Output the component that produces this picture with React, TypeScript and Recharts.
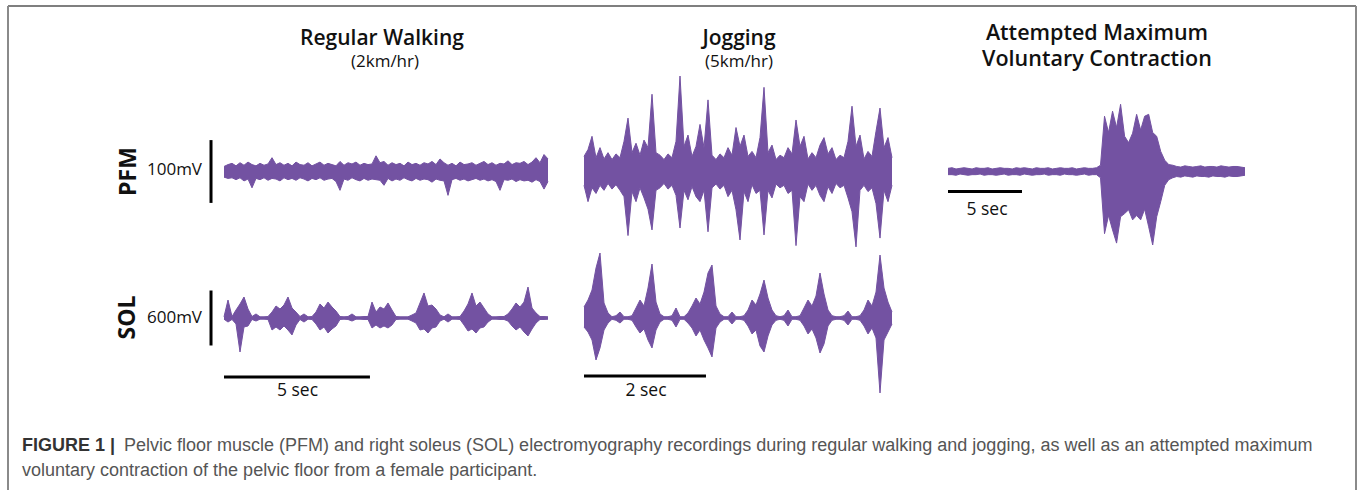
import React from 'react';
import { AreaChart, Area, XAxis, YAxis, ReferenceLine } from 'recharts';

const PURPLE = '#7352A2';

// ---------- data (mV), equally spaced samples over each recording ----------
// Regular walking, pelvic floor muscle (11.1 s)
const WALK_PFM_HI = [8,11,13,9,14,10,15,11,9,13, 10,12,22,11,14,10,13,9,15,11, 10,14,9,12,15,10,13,11,9,16, 10,14,12,15,10,13,11,12,25,14, 16,10,14,11,13,9,15,11,13,10, 14,12,16,11,20,14,10,13,9,15, 11,12,14,10,13,16,11,14,10,13, 12,17,11,14,13,16,11,15,22,14, 27,20];
const WALK_PFM_LO = [-9,-11,-10,-13,-10,-15,-12,-26,-11,-13, -10,-14,-11,-12,-15,-10,-13,-11,-14,-10, -12,-15,-11,-13,-10,-14,-12,-11,-16,-30, -12,-14,-10,-13,-15,-11,-14,-12,-13,-14, -22,-11,-15,-12,-14,-10,-13,-15,-11,-14, -12,-13,-17,-12,-14,-15,-38,-13,-11,-14, -12,-15,-13,-11,-14,-12,-15,-13,-16,-30, -13,-14,-12,-16,-13,-15,-14,-17,-13,-16, -28,-16];
// Regular walking, soleus
const WALK_SOL_HI = [13,196,16,87,153,229,98,16,44,13, 13,16,65,131,98,142,229,109,65,16, 44,13,16,65,153,109,174,120,76,16, 13,16,44,13,13,16,16,174,65,120, 98,164,87,16,13,13,13,33,55,164, 273,131,142,98,33,13,44,13,13,16, 76,153,273,131,174,109,44,13,13,16, 16,44,98,164,120,174,338,109,55,16, 16,13];
const WALK_SOL_LO = [-13,-44,-16,-65,-371,-98,-87,-16,-33,-13, -13,-16,-131,-98,-131,-87,-131,-185,-76,-16, -44,-13,-16,-65,-131,-98,-164,-120,-87,-16, -13,-16,-33,-13,-13,-16,-16,-109,-76,-109, -87,-109,-76,-16,-13,-13,-13,-33,-55,-131, -120,-164,-109,-98,-33,-13,-44,-13,-13,-16, -76,-142,-120,-164,-109,-98,-44,-13,-13,-16, -16,-33,-87,-131,-98,-153,-196,-120,-55,-16, -16,-13];
// Jogging, pelvic floor muscle (5.05 s)
const JOG_PFM_HI = [24,35,56,22,38,20,30,19,28,22, 48,85,30,45,26,50,38,123,30,26, 19,28,22,48,152,40,58,24,40,75, 38,114,26,19,28,22,38,26,70,40, 58,24,32,22,54,134,30,42,19,26, 22,38,28,82,40,56,20,30,22,42, 54,28,38,19,26,22,48,104,40,58, 20,32,24,64,101,38,54,22];
const JOG_PFM_LO = [-22,-48,-26,-35,-22,-30,-19,-28,-21,-30, -40,-102,-32,-48,-26,-42,-60,-93,-30,-26, -19,-28,-22,-38,-90,-30,-45,-24,-40,-48, -30,-96,-26,-20,-28,-22,-40,-30,-61,-109, -32,-48,-21,-35,-30,-101,-30,-42,-20,-26, -22,-35,-30,-118,-40,-48,-20,-30,-22,-38, -48,-24,-35,-19,-26,-22,-42,-64,-120,-30, -22,-32,-26,-51,-106,-30,-48,-22];
// Jogging, soleus
const JOG_SOL_HI = [120,196,305,545,709,164,55,14,25,65, 14,14,25,109,196,131,327,589,174,44, 14,14,25,109,14,14,55,131,218,153, 283,491,578,131,44,14,14,65,14,14, 25,87,196,142,262,414,218,87,25,14, 25,87,14,14,25,109,196,131,240,491, 262,87,25,14,14,25,76,14,14,25, 87,196,131,283,687,327,174,65];
const JOG_SOL_LO = [-98,-153,-240,-458,-327,-131,-55,-14,-25,-55, -14,-14,-25,-98,-164,-120,-240,-327,-131,-44, -14,-14,-25,-98,-14,-14,-55,-109,-196,-131, -240,-327,-425,-109,-44,-14,-14,-65,-14,-14, -25,-87,-174,-131,-305,-371,-196,-76,-25,-14, -25,-87,-14,-14,-25,-87,-174,-120,-218,-382, -283,-87,-25,-14,-14,-25,-76,-14,-14,-25, -87,-174,-109,-218,-818,-240,-153,-65];
// Attempted maximum voluntary contraction, pelvic floor muscle (20 s)
const MVC_PFM_HI = [5,6,4,5,6,5,4,6,5,5, 6,4,5,6,5,5,4,6,5,6, 5,4,6,5,5,6,4,5,6,5, 5,6,4,5,6,5,5,6, 10,88,62,96,70,107,56,46,61,91,66,88,91,62,56,32,18,11,10, 8,7,9,8,7,8,9,7,8,8,7,9,8,7,8,8,7,6];
const MVC_PFM_LO = [-5,-5,-6,-4,-5,-6,-5,-5,-4,-6, -5,-5,-6,-5,-4,-6,-5,-5,-6,-4, -5,-6,-5,-5,-4,-6,-5,-5,-6,-4, -5,-5,-6,-5,-4,-6,-5,-5, -10,-99,-70,-93,-114,-72,-67,-61,-77,-70,-77,-60,-88,-117,-72,-48,-22,-13,-10, -8,-9,-7,-8,-9,-7,-8,-8,-9,-7,-8,-8,-9,-7,-8,-8,-7,-6];

const WALK_DURATION = 11.1;
const JOG_DURATION = 5.05;
const MVC_DURATION = 20.07;
const PFM_MAX = 160;
const SOL_MAX = 873;

const build = (hi: number[], lo: number[], duration: number) => {
  const dt = duration / (hi.length - 1);
  return hi.map((h, i) => ({ t: i * dt, v: [lo[i], h] }));
};

type TraceProps = {
  hi: number[]; lo: number[]; duration: number; yMax: number;
  left: number; top: number; width: number; height: number;
  refs?: React.ReactNode[];
};

function Trace({ hi, lo, duration, yMax, left, top, width, height, refs }: TraceProps) {
  const data = build(hi, lo, duration);
  return (
    <div style={{ position: 'absolute', left, top }}>
      <AreaChart width={width} height={height} data={data} margin={{ top: 0, right: 0, bottom: 0, left: 0 }}>
        <XAxis type="number" dataKey="t" domain={[0, duration]} hide />
        <YAxis type="number" domain={[-yMax, yMax]} hide />
        <Area type="linear" dataKey="v" stroke={PURPLE} strokeWidth={1} fill={PURPLE} fillOpacity={1}
          isAnimationActive={false} dot={false} activeDot={false} />
        {refs}
      </AreaChart>
    </div>
  );
}

const bar = (key: string, x1: number, y1: number, x2: number, y2: number) => (
  <ReferenceLine key={key} segment={[{ x: x1, y: y1 }, { x: x2, y: y2 }]} stroke="#000" strokeWidth={3} ifOverflow="visible" />
);

const TITLE_FONT = '"Open Sans", sans-serif';
const CAP_FONT = '"Liberation Sans", Arial, sans-serif';

export default function App() {
  return (
    <div style={{ position: 'absolute', left: 0, top: 0, width: 1362, height: 490, background: '#fff', overflow: 'hidden' }}>
      <style>{'.recharts-surface{overflow:visible}'}</style>
      <svg width={1362} height={490} style={{ position: 'absolute', left: 0, top: 0 }}>
        <line x1={8} y1={6} x2={1356} y2={6} stroke="#555" strokeWidth={1.5} />
        <line x1={8} y1={6} x2={8} y2={490} stroke="#8a8a8a" strokeWidth={2} />
        <line x1={1356} y1={6} x2={1356} y2={490} stroke="#8a8a8a" strokeWidth={2} />

        <g fontFamily={TITLE_FONT} fill="#111" textAnchor="middle">
          <text x={382} y={45} fontSize={21} fontWeight={600}>Regular Walking</text>
          <text x={385} y={67} fontSize={17}>(2km/hr)</text>
          <text x={739} y={45} fontSize={21} fontWeight={600}>Jogging</text>
          <text x={739} y={67} fontSize={17}>(5km/hr)</text>
          <text x={1097} y={39.5} fontSize={21.5} fontWeight={600}>Attempted Maximum</text>
          <text x={1097} y={66} fontSize={21.5} fontWeight={600}>Voluntary Contraction</text>
          <text x={0} y={0} fontSize={23} fontWeight={700} dominantBaseline="central" transform="translate(127,171.5) rotate(-90)">PFM</text>
          <text x={0} y={0} fontSize={23} fontWeight={700} dominantBaseline="central" transform="translate(126,317.5) rotate(-90)">SOL</text>
          <text x={174.5} y={175} fontSize={17}>100mV</text>
          <text x={174.5} y={323} fontSize={17}>600mV</text>
          <text x={297.5} y={396} fontSize={17.5}>5 sec</text>
          <text x={646} y={395.5} fontSize={17.5}>2 sec</text>
          <text x={987} y={214.5} fontSize={17.5}>5 sec</text>
        </g>

        <g fontFamily={CAP_FONT} fontSize={18}>
          <text x={22} y={451} fill="#333" fontWeight={700}>FIGURE 1 |</text>
          <text x={124} y={451} fill="#555">Pelvic floor muscle (PFM) and right soleus (SOL) electromyography recordings during regular walking and jogging, as well as an attempted maximum</text>
          <text x={22} y={476} fill="#555">voluntary contraction of the pelvic floor from a female participant.</text>
        </g>
      </svg>

      <Trace hi={WALK_PFM_HI} lo={WALK_PFM_LO} duration={WALK_DURATION} yMax={PFM_MAX}
        left={224} top={71} width={324} height={201}
        refs={[bar('pfmScale', -0.445, -50, -0.445, 50)]} />
      <Trace hi={WALK_SOL_HI} lo={WALK_SOL_LO} duration={WALK_DURATION} yMax={SOL_MAX}
        left={224} top={238} width={324} height={160}
        refs={[bar('solScale', -0.445, -300, -0.445, 300), bar('walkTime', 0, -644, 5, -644)]} />
      <Trace hi={JOG_PFM_HI} lo={JOG_PFM_LO} duration={JOG_DURATION} yMax={PFM_MAX}
        left={584} top={71} width={308} height={201} />
      <Trace hi={JOG_SOL_HI} lo={JOG_SOL_LO} duration={JOG_DURATION} yMax={SOL_MAX}
        left={584} top={238} width={308} height={160}
        refs={[bar('jogTime', 0, -633, 2, -633)]} />
      <Trace hi={MVC_PFM_HI} lo={MVC_PFM_LO} duration={MVC_DURATION} yMax={PFM_MAX}
        left={948} top={71} width={297} height={201}
        refs={[bar('mvcTime', 0, -32, 5, -32)]} />
    </div>
  );
}
